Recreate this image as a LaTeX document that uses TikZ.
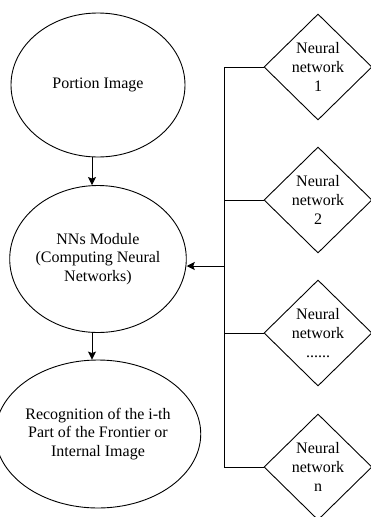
\documentclass[tikz,border=0pt]{standalone}
\usepackage{fontspec}
\setmainfont{Liberation Serif}
\usetikzlibrary{shapes.geometric,arrows.meta}
\begin{document}
\begin{tikzpicture}[x=1pt,y=-1pt,
  lbl/.style={font=\fontsize{16}{18.7}\selectfont, align=center},
  ell/.style={ellipse, draw, line width=0.9pt, lbl, minimum width=174pt, inner sep=0pt},
  dia/.style={diamond, draw, line width=0.9pt, lbl, minimum width=108pt, minimum height=106pt, inner sep=0pt},
  wire/.style={line width=0.9pt},
  arr/.style={line width=0.9pt, -{Stealth[length=8pt,width=8pt,inset=1.5pt]}}]
\useasboundingbox (0,0) rectangle (371,517);
\node[ell, minimum height=144pt] (e1) at (98,85) {Portion Image};
\node[ell, minimum height=147pt] (e2) at (98,259) {NNs Module\\(Computing Neural\\Networks)};
\node[ell, minimum height=148pt] (e3) at (98,434) {Recognition of the i-th\\Part of the Frontier or\\Internal Image};
\node[dia] (d1) at (318,67) {Neural\\network\\1};
\node[dia] (d2) at (318,200) {Neural\\network\\2};
\node[dia] (d3) at (318,333) {Neural\\network\\......};
\node[dia] (d4) at (318,467) {Neural\\network\\n};
\coordinate (bt) at (224,67);
\coordinate (bb) at (224,467);
\coordinate (bm) at (224,266);
\draw[wire] (d1.west) -- (bt) -- (bb) -- (d4.west);
\draw[wire] (d2.west) -- (d2.west -| bt);
\draw[wire] (d3.west) -- (d3.west -| bt);
\draw[arr] (bm) -- (bm -| e2.east);
\draw[arr] ([xshift=-6pt]e1.south) -- ([xshift=-6pt]e1.south |- e2.north);
\draw[arr] ([xshift=-6pt]e2.south) -- ([xshift=-6pt]e2.south |- e3.north);
\end{tikzpicture}
\end{document}
